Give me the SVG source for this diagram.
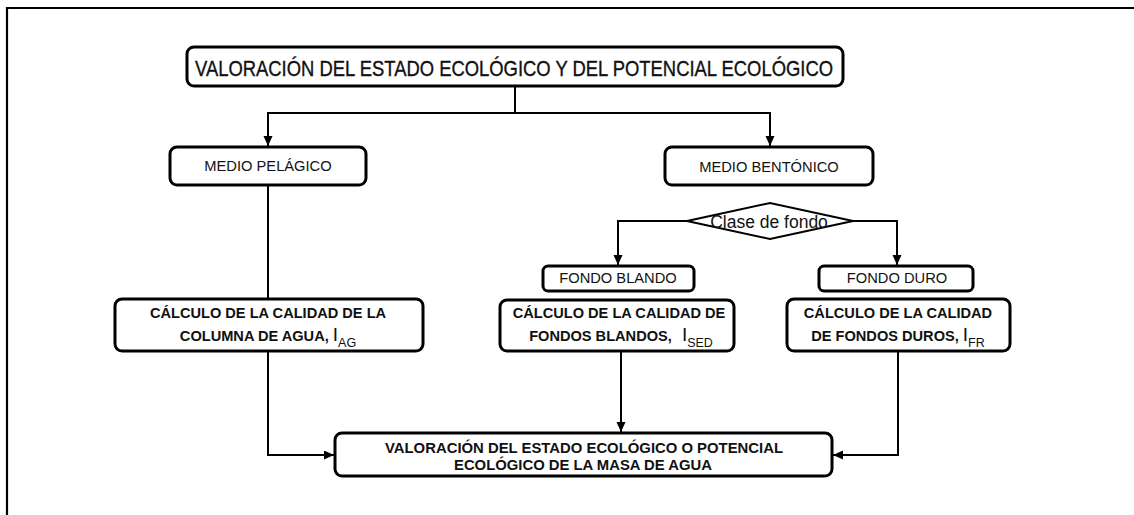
<svg xmlns="http://www.w3.org/2000/svg" width="1134" height="515" viewBox="0 0 1134 515">
<style>
.box{fill:#fff;stroke:#000;stroke-width:3}
.con{fill:none;stroke:#000;stroke-width:2}
.frame{fill:none;stroke:#000;stroke-width:2.2}
.t{font-family:"Liberation Sans",Arial,sans-serif;fill:#111;text-anchor:middle}
.r{font-size:14.7px}
.b{font-size:14.6px;font-weight:bold}
.n{font-weight:bold;font-size:15.5px}
.big{font-weight:normal;font-size:19px}
.sub{font-weight:normal;font-size:12.5px}
</style>
<defs>
<marker id="arr" markerUnits="userSpaceOnUse" markerWidth="11" markerHeight="10" refX="10" refY="4.5" orient="auto">
<path d="M0,0 L10,4.5 L0,9 z" fill="#000"/>
</marker>
</defs>
<rect width="1134" height="515" fill="#fff"/>
<path class="frame" d="M7,515 V8 H1134"/>
<g id="connectors">
<path class="con" d="M515,86 V113"/>
<path class="con" d="M515,113 H268 V146" marker-end="url(#arr)"/>
<path class="con" d="M515,113 H770 V146" marker-end="url(#arr)"/>
<path class="con" d="M268,185 V299"/>
<path class="con" d="M687,221 H618 V265" marker-end="url(#arr)"/>
<path class="con" d="M853,221 H897 V265" marker-end="url(#arr)"/>
<path class="con" d="M268,351 V455 H334" marker-end="url(#arr)"/>
<path class="con" d="M621,351 V432" marker-end="url(#arr)"/>
<path class="con" d="M898,351 V455 H833" marker-end="url(#arr)"/>
</g>
<g id="top">
<rect class="box" x="187" y="47" width="656" height="39" rx="7"/>
<text class="t" x="514" y="75.5" font-size="21.5" stroke="#111" stroke-width="0.35" textLength="638" lengthAdjust="spacingAndGlyphs">VALORACIÓN DEL ESTADO ECOLÓGICO  Y DEL POTENCIAL ECOLÓGICO</text>
</g>
<g id="pelagico">
<rect class="box" x="170" y="147" width="196" height="38" rx="7"/>
<text class="t r" x="268" y="171">MEDIO PELÁGICO</text>
</g>
<g id="bentonico">
<rect class="box" x="665" y="147" width="208" height="38" rx="7"/>
<text class="t r" x="769" y="172">MEDIO BENTÓNICO</text>
</g>
<g id="clase">
<polygon points="687,221 770,203 853,221 770,239" fill="#fff" stroke="#000" stroke-width="2"/>
<text class="t" x="769" y="228" font-size="17.5">Clase de fondo</text>
</g>
<g id="blando">
<rect class="box" x="543" y="266" width="151" height="25" rx="5"/>
<text class="t r" x="618" y="283">FONDO BLANDO</text>
</g>
<g id="duro">
<rect class="box" x="819" y="266" width="154" height="25" rx="5"/>
<text class="t r" x="897" y="283">FONDO DURO</text>
</g>
<g id="calc-agua">
<rect class="box" x="115" y="299" width="308" height="52" rx="7"/>
<text class="t b" x="268" y="318">CÁLCULO DE LA CALIDAD DE LA</text>
<text class="t b" x="268" y="341">COLUMNA DE AGUA, <tspan class="big">I</tspan><tspan class="sub" dy="6">AG</tspan></text>
</g>
<g id="calc-blandos">
<rect class="box" x="500" y="300" width="234" height="51" rx="7"/>
<text class="t b" x="619" y="318">CÁLCULO DE LA CALIDAD DE</text>
<text class="t b" x="621" y="341">FONDOS BLANDOS, <tspan class="big" dx="6">I</tspan><tspan class="sub" dy="6">SED</tspan></text>
</g>
<g id="calc-duros">
<rect class="box" x="787" y="299" width="223" height="52" rx="7"/>
<text class="t b" x="898" y="318">CÁLCULO DE LA CALIDAD</text>
<text class="t b" x="898" y="341">DE FONDOS DUROS, <tspan class="big">I</tspan><tspan class="sub" dy="6">FR</tspan></text>
</g>
<g id="final">
<rect class="box" x="335" y="433" width="497" height="43" rx="7"/>
<text class="t n" x="584" y="452.5" textLength="398" lengthAdjust="spacingAndGlyphs">VALORACIÓN DEL ESTADO ECOLÓGICO O  POTENCIAL</text>
<text class="t n" x="583" y="469.5" textLength="258" lengthAdjust="spacingAndGlyphs">ECOLÓGICO DE LA MASA DE AGUA</text>
</g>
</svg>
